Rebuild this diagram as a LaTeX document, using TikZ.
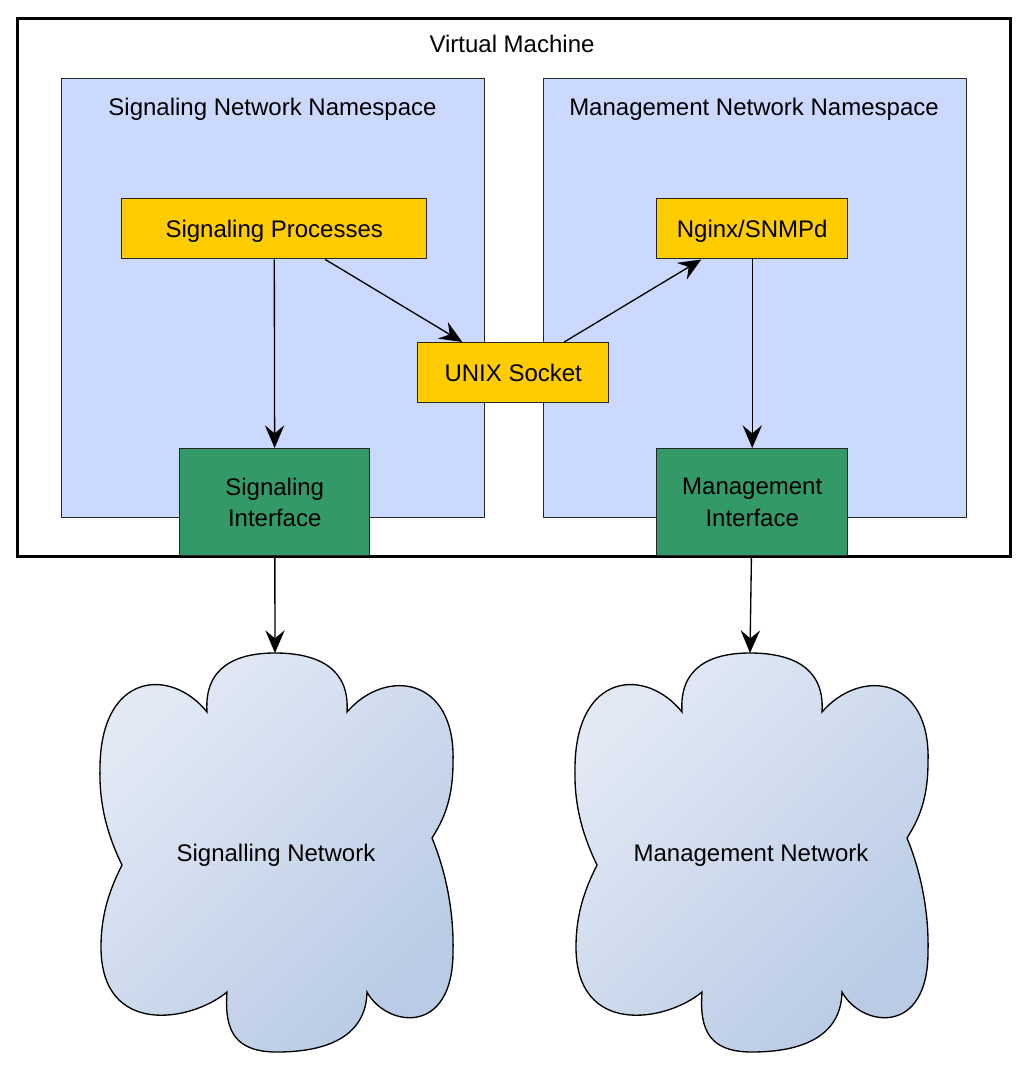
\documentclass[tikz,border=0pt]{standalone}
\usepackage{fontspec}
\setmainfont{Liberation Sans}
\usetikzlibrary{arrows.meta}
\newdimen\pxu \pxu=0.75pt
\definecolor{nsfill}{HTML}{CCD9FF}
\definecolor{procfill}{HTML}{FFCC00}
\definecolor{iffill}{HTML}{339966}
\definecolor{cloudA}{HTML}{E2E9F5}
\definecolor{cloudB}{HTML}{B9CBE5}
\tikzset{
  basefont/.style={font=\fontsize{18}{23.5}\selectfont},
  vmbox/.style={draw=black, line width=2.25pt, fill=white, inner sep=0pt, anchor=north west},
  nsbox/.style={draw=black!85, line width=1.1pt, fill=nsfill, inner sep=0pt, anchor=north west},
  procbox/.style={draw=black!85, line width=1.1pt, fill=procfill, inner sep=0pt, anchor=north west, align=center, text height=16.3pt, text depth=3.8pt, basefont},
  ifbox/.style={draw=black!85, line width=1.1pt, fill=iffill, inner sep=0pt, anchor=north west, align=center, basefont},
  titletext/.style={inner sep=0pt, anchor=base, basefont},
  arr/.style={-{Stealth[length=17pt,width=14.5pt,inset=6pt]}, line width=1pt, black},
  cloudpic/.pic={
    \shade[draw=black, line width=1pt, top color=cloudA, bottom color=cloudB, shading angle=45]
      (-69,-140) .. controls (-72,-185) and (-40,-199) .. (-1,-199)
      .. controls (40,-199) and (74,-185) .. (71,-140)
      .. controls (110,-185) and (180,-175) .. (177,-90)
      .. controls (177,-50) and (166,-30) .. (156,-14)
      .. controls (170,20) and (178,60) .. (177,100)
      .. controls (177,185) and (110,175) .. (91,140)
      .. controls (90,185) and (50,200) .. (1,200)
      .. controls (-40,200) and (-52,180) .. (-49,140)
      .. controls (-85,170) and (-175,185) .. (-175,95)
      .. controls (-175,60) and (-165,35) .. (-154,13)
      .. controls (-170,-20) and (-177,-50) .. (-176,-85)
      .. controls (-175,-180) and (-105,-185) .. cycle;
  }
}
\begin{document}
\begin{tikzpicture}[x=0.75pt, y=-0.75pt]
  \fill[white] (0,0) rectangle (1024,1088);
  \useasboundingbox (0,0) rectangle (1024,1088);

  % containers
  \node[vmbox, minimum width=993\pxu, minimum height=538\pxu] (vm) at (16,17) {};
  \node[titletext] (vmtitle) at (512,53) {Virtual Machine};

  \node[nsbox, minimum width=423\pxu, minimum height=439\pxu] (signs) at (61,78) {};
  \node[titletext] (signstitle) at (272.5,115) {Signaling Network Namespace};

  \node[nsbox, minimum width=423\pxu, minimum height=439\pxu] (mgmtns) at (543,78) {};
  \node[titletext] (mgmtnstitle) at (754,115) {Management Network Namespace};

  % process boxes
  \node[procbox, minimum width=305\pxu, minimum height=60\pxu] (sp) at (121,198) {Signaling Processes};
  \node[procbox, minimum width=191\pxu, minimum height=60\pxu] (nginx) at (656,198) {Nginx/SNMPd};
  \node[procbox, minimum width=191\pxu, minimum height=60\pxu] (unix) at (417,342) {UNIX Socket};

  % interfaces
  \node[ifbox, minimum width=190\pxu, minimum height=107\pxu] (sigif) at (179,448) {Signaling\\Interface};
  \node[ifbox, minimum width=191\pxu, minimum height=107\pxu] (mgmtif) at (656,448) {Management\\Interface};

  % clouds
  \pic at (276,852) {cloudpic};
  \pic at (751,852) {cloudpic};
  \node[titletext] (sigcloud) at (276,861) {Signalling Network};
  \node[titletext] (mgmtcloud) at (751,861) {Management Network};
  \coordinate (sigtop) at (275,653);
  \coordinate (mgmttop) at (750,653);

  % connectors
  \draw[arr] (sp) -- (sigif);
  \draw[arr] (sp) -- (unix);
  \draw[arr] (unix) -- (nginx);
  \draw[arr] (nginx) -- (mgmtif);
  \draw[arr] (sigif) -- (sigtop);
  \draw[arr] (mgmtif) -- (mgmttop);
\end{tikzpicture}
\end{document}
